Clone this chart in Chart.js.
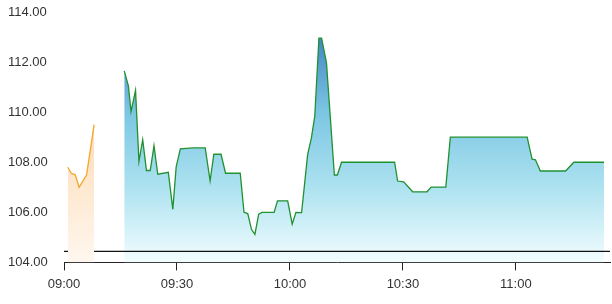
<!DOCTYPE html>
<html>
<head>
<meta charset="utf-8">
<script src="https://cdn.jsdelivr.net/npm/chart.js@4.4.1/dist/chart.umd.min.js"></script>
<style>
  html, body { margin: 0; padding: 0; background: #fff; overflow: hidden; }
  canvas { display: block; }
</style>
</head>
<body>
<canvas id="priceChart" width="612" height="304"></canvas>
<script>
'use strict';

// ─── Data (minutes after 09:00) ───────────────────────────────
const preTimes  = [1, 2, 3, 4, 6, 8];
const preValues = [107.8, 107.55, 107.5, 107.0, 107.5, 109.5];

const mainTimes = [
  16, 17.1, 17.8, 19, 19.9, 20.9, 21.9, 22.9, 23.9, 24.9,
  27.7, 28.9, 29.8, 30.9, 34.2, 37.5, 38.8, 39.8, 41.7, 42.9,
  46.8, 47.8, 48.8, 49.8, 50.7, 51.7, 52.6, 55.8, 56.7, 59.4,
  60.6, 61.6, 63.1, 64.7, 65.7, 66.6, 67.7, 68.4, 69.7, 71.8,
  72.6, 73.7, 87.8, 88.6, 90.2, 92.6, 96.4, 97.5, 101.4, 102.6,
  123, 124.3, 125.2, 126.5, 133.2, 135.4, 143.4
];
const mainValues = [
  111.65, 111.05, 110.02, 110.87, 108.03, 108.9, 107.67, 107.67, 108.66, 107.52,
  107.6, 106.12, 107.83, 108.53, 108.57, 108.57, 107.26, 108.32, 108.32, 107.56,
  107.56, 106.0, 105.95, 105.31, 105.12, 105.93, 106.0, 106.0, 106.46, 106.46,
  105.53, 106.0, 105.99, 108.3, 108.97, 109.84, 112.96, 112.96, 111.98, 107.49,
  107.49, 108.0, 108.0, 107.25, 107.22, 106.82, 106.82, 107.01, 107.01, 109.0,
  109.0, 108.12, 108.1, 107.65, 107.65, 108.0, 108.0
];

const refLevel = 104.44;
const refTimes = [0, 145];

const xTickValues = [0, 30, 60, 90, 120];
const xTickLabels = ['09:00', '09:30', '10:00', '10:30', '11:00'];
const yTickValues = [104, 106, 108, 110, 112, 114];

// ─── Helpers ──────────────────────────────────────────────────
function toPoints(times, values) {
  return times.map((t, i) => ({ x: t, y: values[i] }));
}

function vGradient(stops) {
  return (ctx) => {
    const area = ctx.chart.chartArea;
    if (!area) return stops[0][1];
    const g = ctx.chart.ctx.createLinearGradient(0, area.top, 0, area.bottom);
    stops.forEach(([p, c]) => g.addColorStop(p, c));
    return g;
  };
}

const blueFill = vGradient([
  [0.0, '#2f68ad'], [0.1, '#4585c4'], [0.4, '#7cc6e3'], [0.7, '#ade2f0'], [1.0, '#f2fdff']
]);
const orangeFill = vGradient([
  [0.0, '#fbc78c'], [0.45, '#fcdcb6'], [1.0, '#fff7ef']
]);

const tickFont = { family: 'Liberation Sans, Arial, sans-serif', size: 13 };

// ─── Chart ────────────────────────────────────────────────────
const ctx = document.getElementById('priceChart');

new Chart(ctx, {
  type: 'line',
  data: {
    datasets: [
      {
        label: 'pre',
        data: toPoints(preTimes, preValues),
        borderColor: '#f4aa35',
        borderWidth: 1.4,
        backgroundColor: orangeFill,
        fill: 'start',
        pointRadius: 0,
        tension: 0,
        order: 1,
      },
      {
        label: 'ref',
        data: toPoints(refTimes, refTimes.map(() => refLevel)),
        borderColor: '#111',
        borderWidth: 1.3,
        fill: false,
        pointRadius: 0,
        order: 2,
      },
      {
        label: 'price',
        data: toPoints(mainTimes, mainValues),
        borderColor: '#1f9130',
        borderWidth: 1.3,
        backgroundColor: blueFill,
        fill: 'start',
        pointRadius: 0,
        tension: 0,
        order: 3,
      },
    ]
  },
  options: {
    responsive: false,
    animation: false,
    layout: { padding: { top: 12, right: 2, bottom: 6, left: 8 } },
    plugins: {
      legend: { display: false },
      tooltip: { enabled: false },
    },
    scales: {
      x: {
        type: 'linear',
        min: 0,
        max: 145,
        afterBuildTicks: (scale) => { scale.ticks = xTickValues.map(v => ({ value: v })); },
        ticks: {
          color: '#333',
          font: tickFont,
          padding: 6,
          maxRotation: 0,
          callback: (v) => xTickLabels[xTickValues.indexOf(v)] ?? '',
        },
        grid: { drawOnChartArea: false, drawTicks: true, tickLength: 8, color: '#222', lineWidth: 1 },
        border: { display: true, color: '#222', width: 1 },
      },
      y: {
        min: 104,
        max: 114,
        afterBuildTicks: (scale) => { scale.ticks = yTickValues.map(v => ({ value: v })); },
        afterFit: (scale) => { scale.width = 56; },
        ticks: {
          color: '#333',
          font: tickFont,
          padding: 0,
          crossAlign: 'far',
          callback: (v) => Number(v).toFixed(2),
        },
        grid: { display: false, drawTicks: false },
        border: { display: false },
      },
    },
  },
});
</script>
</body>
</html>
